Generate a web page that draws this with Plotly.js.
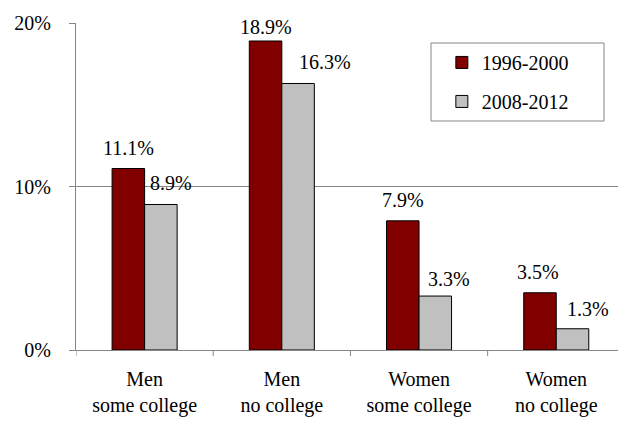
<!DOCTYPE html>
<html>
<head>
<meta charset="utf-8">
<script src="https://cdn.plot.ly/plotly-3.0.1.min.js"></script>
</head>
<body style="margin:0">
<div id="chart" style="width:618px;height:421px"></div>
<script>
// Data
const categories = ["Men<br>some college", "Men<br>no college", "Women<br>some college", "Women<br>no college"];
const seriesNames = ["1996-2000", "2008-2012"];
const values1996 = [11.1, 18.9, 7.9, 3.5];
const values2008 = [8.9, 16.3, 3.3, 1.3];
const labels1996 = ["11.1%", "18.9%", "7.9%", "3.5%"];
const labels2008 = ["8.9%", "16.3%", "3.3%", "1.3%"];
const yTickVals = [0, 10, 20];
const yTickText = ["0%", "10%", "20%"];

// Label nudges (style only)
const nudgeX1996 = [0, 0, 0, -2];
const nudgeX2008 = [10, 27, 14, 15];
const nudgeY1996 = [21, 14, 21, 21];
const nudgeY2008 = [21, 21, 17, 20];

const barHalf = 16.3;
function f() { return {family: 'serif', size: 20, color: '#000000'}; }

const traces = [
  {type: 'bar', name: seriesNames[0], x: [0, 1, 2, 3], y: values1996,
   marker: {color: '#800000', line: {color: '#000000', width: 1}}, legendgroup: 'a'},
  {type: 'bar', name: seriesNames[1], x: [0, 1, 2, 3], y: values2008,
   marker: {color: '#C0C0C0', line: {color: '#000000', width: 1}}, legendgroup: 'b'}
];

const annotations = [];
for (let i = 0; i < categories.length; i++) {
  annotations.push({x: i, y: values1996[i], xref: 'x', yref: 'y', text: labels1996[i], showarrow: false,
    xanchor: 'center', yanchor: 'middle', xshift: -barHalf + nudgeX1996[i], yshift: nudgeY1996[i], font: f()});
  annotations.push({x: i, y: values2008[i], xref: 'x', yref: 'y', text: labels2008[i], showarrow: false,
    xanchor: 'center', yanchor: 'middle', xshift: barHalf + nudgeX2008[i], yshift: nudgeY2008[i], font: f()});
}

const layout = {
  width: 618, height: 421,
  margin: {l: 76, r: 0, t: 23, b: 71, pad: 0},
  font: f(),
  barmode: 'group', bargap: 0.526, bargroupgap: 0,
  showlegend: true,
  legend: {x: 0.675, y: 0.939, xanchor: 'left', yanchor: 'top', bgcolor: 'rgba(0,0,0,0)',
    borderwidth: 0, font: f(), tracegroupgap: 10},
  xaxis: {range: [-0.5, 3.45], tickvals: [0, 1, 2, 3], ticktext: categories, showgrid: false, zeroline: false,
    showline: true, linecolor: '#868686', linewidth: 1, ticks: '', tickfont: f(), ticklabelstandoff: 11},
  yaxis: {range: [0, 20], tickvals: yTickVals, ticktext: yTickText, showgrid: true, gridcolor: '#868686',
    gridwidth: 1, zeroline: false, showline: true, linecolor: '#868686', linewidth: 1,
    ticks: 'outside', ticklen: 6, tickcolor: '#868686', ticklabelstandoff: 14, tickfont: f()},
  shapes: [
    {type: 'rect', xref: 'paper', yref: 'paper', x0: (431-76)/542, x1: (604-76)/542,
     y0: (350-121)/327, y1: (350-43)/327, line: {color: '#868686', width: 1}},
    {type: 'line', xref: 'x', yref: 'paper', x0: 0.5, x1: 0.5, y0: 0, y1: -6/327, line: {color: '#868686', width: 1}},
    {type: 'line', xref: 'x', yref: 'paper', x0: 1.5, x1: 1.5, y0: 0, y1: -6/327, line: {color: '#868686', width: 1}},
    {type: 'line', xref: 'x', yref: 'paper', x0: 2.5, x1: 2.5, y0: 0, y1: -6/327, line: {color: '#868686', width: 1}},
    {type: 'line', xref: 'x', yref: 'paper', x0: -0.5, x1: -0.5, y0: 0, y1: -6/327, line: {color: '#868686', width: 1}}
  ],
  annotations: annotations
};

Plotly.newPlot('chart', traces, layout, {staticPlot: true});
</script>
</body>
</html>
